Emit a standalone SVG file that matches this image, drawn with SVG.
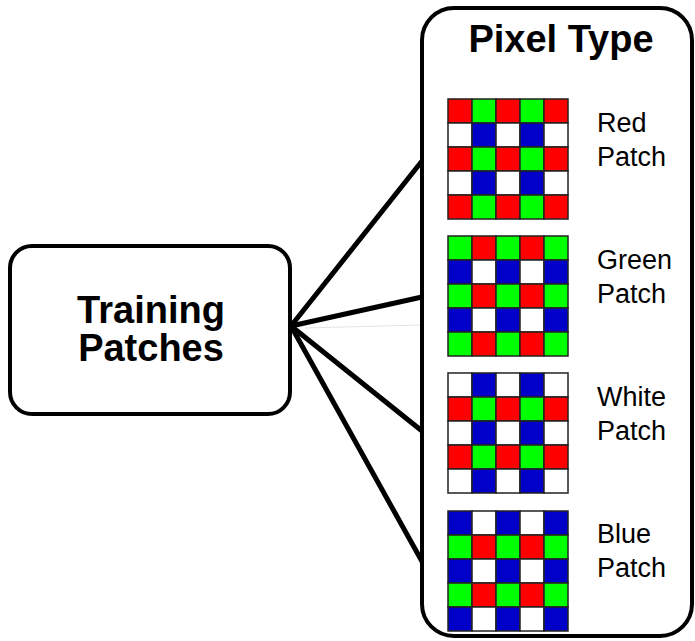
<svg xmlns="http://www.w3.org/2000/svg" xmlns:xlink="http://www.w3.org/1999/xlink" width="695" height="641" viewBox="0 0 695 641">
<style>
.box{fill:#fff;stroke:#000;stroke-width:4}
.conn{stroke:#000;stroke-width:5;stroke-linecap:round;fill:none}
.r{fill:#ff0000}.g{fill:#00ff00}.b{fill:#0000c8}.w{fill:#fff}
.cell rect{stroke:#222;stroke-width:1.5}
.title{font-family:"Liberation Sans",Arial,sans-serif;font-weight:bold;fill:#000}
.lbl{font-family:"Liberation Sans",Arial,sans-serif;font-size:27px;fill:#000}
</style>
<defs>
<g id="rowRG" class="cell"><rect class="r" x="0" y="0" width="24" height="24"/><rect class="g" x="24" y="0" width="24" height="24"/><rect class="r" x="48" y="0" width="24" height="24"/><rect class="g" x="72" y="0" width="24" height="24"/><rect class="r" x="96" y="0" width="24" height="24"/></g>
<g id="rowGR" class="cell"><rect class="g" x="0" y="0" width="24" height="24"/><rect class="r" x="24" y="0" width="24" height="24"/><rect class="g" x="48" y="0" width="24" height="24"/><rect class="r" x="72" y="0" width="24" height="24"/><rect class="g" x="96" y="0" width="24" height="24"/></g>
<g id="rowWB" class="cell"><rect class="w" x="0" y="0" width="24" height="24"/><rect class="b" x="24" y="0" width="24" height="24"/><rect class="w" x="48" y="0" width="24" height="24"/><rect class="b" x="72" y="0" width="24" height="24"/><rect class="w" x="96" y="0" width="24" height="24"/></g>
<g id="rowBW" class="cell"><rect class="b" x="0" y="0" width="24" height="24"/><rect class="w" x="24" y="0" width="24" height="24"/><rect class="b" x="48" y="0" width="24" height="24"/><rect class="w" x="72" y="0" width="24" height="24"/><rect class="b" x="96" y="0" width="24" height="24"/></g>
</defs>
<g id="connectors">
<line class="conn" x1="291" y1="326" x2="422" y2="161"/>
<line class="conn" x1="291" y1="326" x2="422" y2="297"/>
<line class="conn" x1="291" y1="326" x2="422" y2="431"/>
<line class="conn" x1="291" y1="326" x2="424" y2="565"/>
<line x1="305" y1="328" x2="420" y2="325" stroke="#e4e4e4" stroke-width="1"/>
</g>
<g id="training">
<rect class="box" x="10" y="246" width="280" height="168" rx="22"/>
<text class="title" font-size="38" text-anchor="middle" x="151" y="323">Training</text>
<text class="title" font-size="38" text-anchor="middle" x="151" y="361">Patches</text>
</g>
<g id="pixeltype">
<rect class="box" x="422" y="8" width="270" height="628" rx="32"/>
<text class="title" font-size="38" text-anchor="middle" x="561" y="52">Pixel Type</text>
</g>
<g id="red-patch">
<use xlink:href="#rowRG" x="448" y="99"/><use xlink:href="#rowWB" x="448" y="123"/><use xlink:href="#rowRG" x="448" y="147"/><use xlink:href="#rowWB" x="448" y="171"/><use xlink:href="#rowRG" x="448" y="195"/>
<text class="lbl" x="597" y="132">Red</text><text class="lbl" x="597" y="166">Patch</text>
</g>
<g id="green-patch">
<use xlink:href="#rowGR" x="448" y="236"/><use xlink:href="#rowBW" x="448" y="260"/><use xlink:href="#rowGR" x="448" y="284"/><use xlink:href="#rowBW" x="448" y="308"/><use xlink:href="#rowGR" x="448" y="332"/>
<text class="lbl" x="597" y="269">Green</text><text class="lbl" x="597" y="303">Patch</text>
</g>
<g id="white-patch">
<use xlink:href="#rowWB" x="448" y="373"/><use xlink:href="#rowRG" x="448" y="397"/><use xlink:href="#rowWB" x="448" y="421"/><use xlink:href="#rowRG" x="448" y="445"/><use xlink:href="#rowWB" x="448" y="469"/>
<text class="lbl" x="597" y="406">White</text><text class="lbl" x="597" y="440">Patch</text>
</g>
<g id="blue-patch">
<use xlink:href="#rowBW" x="448" y="511"/><use xlink:href="#rowGR" x="448" y="535"/><use xlink:href="#rowBW" x="448" y="559"/><use xlink:href="#rowGR" x="448" y="583"/><use xlink:href="#rowBW" x="448" y="607"/>
<text class="lbl" x="597" y="543">Blue</text><text class="lbl" x="597" y="577">Patch</text>
</g>
</svg>
